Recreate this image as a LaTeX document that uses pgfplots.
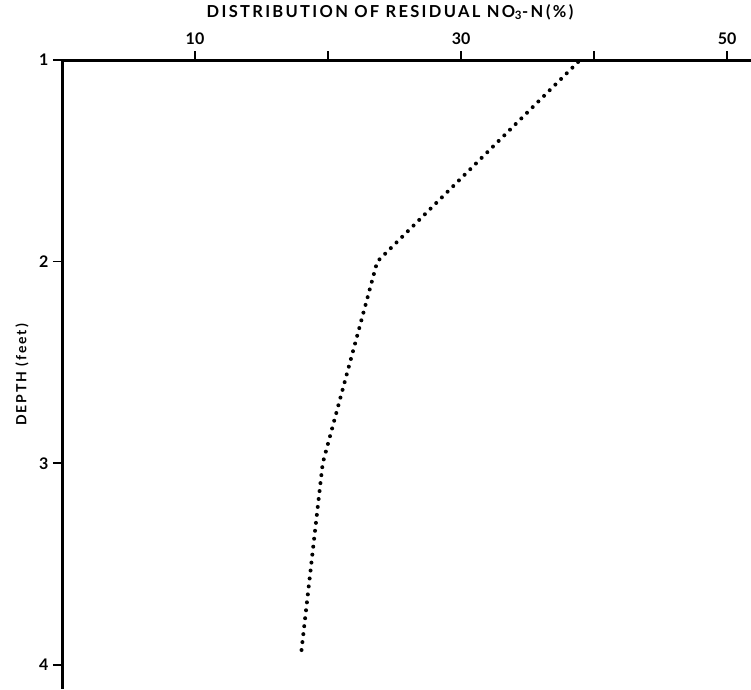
\documentclass[border=0pt]{standalone}
\usepackage{pgfplots}
\pgfplotsset{compat=1.18}
\usepackage{fontspec}
\setmainfont{Lato}
\begin{document}
\begin{tikzpicture}[x=1pt,y=1pt]
\path[use as bounding box] (0,0) rectangle (751,689);
\begin{axis}[
  at={(62pt,0pt)}, anchor=south west,
  scale only axis, width=689pt, height=629pt,
  xmin=0, xmax=51.8, ymin=1, ymax=4.12, y dir=reverse,
  axis x line*=top, axis y line*=left,
  axis line style={-, line width=3pt, black},
  tick align=outside, major tick length=9pt,
  tick style={line width=1.6pt, black},
  xtick={10,20,30,40,50}, xticklabels={10,,30,,50},
  ytick={1,2,3,4},
  /pgf/number format/assume math mode=true,
  ticklabel style={font=\fontsize{16}{18}\selectfont\bfseries},
  xticklabel style={yshift=3pt},
  yticklabel style={xshift=-1pt},
  clip=false,
]
\addplot[black, line width=4pt, line cap=round, dash pattern=on 0pt off 8pt]
  coordinates {(38.8,1.01) (23.7,2) (19.6,3) (17.95,3.96)};
\end{axis}
\node[font=\fontsize{16.5}{18}\selectfont\bfseries\addfontfeatures{LetterSpace=14}] at (390,677)
  {DISTRIBUTION OF RESIDUAL NO\textsubscript{3}-N\,(\%)};
\node[rotate=90, font=\fontsize{14}{16}\selectfont\bfseries\addfontfeatures{LetterSpace=14}] at (22,314)
  {DEPTH (feet)};
\end{tikzpicture}
\end{document}
